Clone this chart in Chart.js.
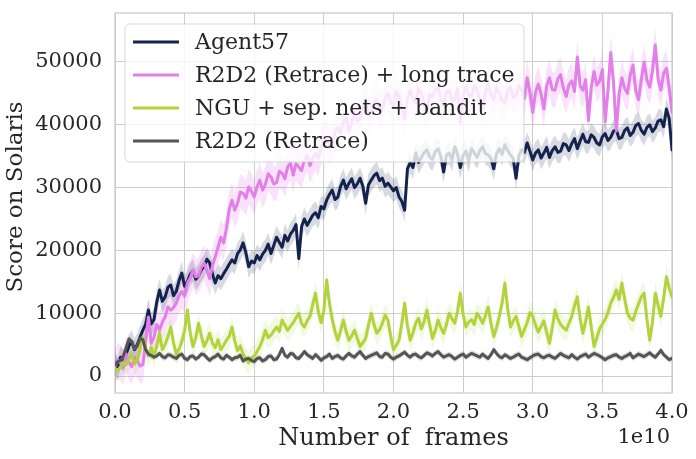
<!DOCTYPE html>
<html><head><meta charset="utf-8">
<script src="https://cdn.jsdelivr.net/npm/chart.js@4.4.1/dist/chart.umd.min.js"></script>
<style>html,body{margin:0;padding:0;background:#fff;}#wrap{width:696px;height:459px;position:relative;}</style>
</head><body><div id="wrap"><canvas id="c" width="696" height="459"></canvas></div>
<script>
// x positions in units of 1e10 frames
const frames = [0,0.02,0.04,0.06,0.08,0.1,0.12,0.14,0.16,0.18,0.2,0.22,0.24,0.26,0.28,0.3,0.32,0.34,0.36,0.38,0.4,0.42,0.44,0.46,0.48,0.5,0.52,0.54,0.56,0.58,0.6,0.62,0.64,0.66,0.68,0.7,0.72,0.74,0.76,0.78,0.8,0.82,0.84,0.86,0.88,0.9,0.92,0.94,0.96,0.98,
1,1.02,1.04,1.06,1.08,1.1,1.12,1.14,1.16,1.18,1.2,1.22,1.24,1.26,1.28,1.3,1.32,1.34,1.36,1.38,1.4,1.42,1.44,1.46,1.48,1.5,1.52,1.54,1.56,1.58,1.6,1.62,1.64,1.66,1.68,1.7,1.72,1.74,1.76,1.78,1.8,1.82,1.84,1.86,1.88,1.9,1.92,1.94,1.96,1.98,
2,2.02,2.04,2.06,2.08,2.1,2.12,2.14,2.16,2.18,2.2,2.22,2.24,2.26,2.28,2.3,2.32,2.34,2.36,2.38,2.4,2.42,2.44,2.46,2.48,2.5,2.52,2.54,2.56,2.58,2.6,2.62,2.64,2.66,2.68,2.7,2.72,2.74,2.76,2.78,2.8,2.82,2.84,2.86,2.88,2.9,2.92,2.94,2.96,2.98,
3,3.02,3.04,3.06,3.08,3.1,3.12,3.14,3.16,3.18,3.2,3.22,3.24,3.26,3.28,3.3,3.32,3.34,3.36,3.38,3.4,3.42,3.44,3.46,3.48,3.5,3.52,3.54,3.56,3.58,3.6,3.62,3.64,3.66,3.68,3.7,3.72,3.74,3.76,3.78,3.8,3.82,3.84,3.86,3.88,3.9,3.92,3.94,3.96,3.98,4];

const seriesNames = ['Agent57','R2D2 (Retrace) + long trace','NGU + sep. nets + bandit','R2D2 (Retrace)'];

const agent57 = [2000,1200,3000,2400,3500,4800,5500,4200,5000,6200,7300,8200,10500,8300,9000,11800,13700,11900,12600,14100,14500,12800,13500,15200,16400,14300,15000,16200,16800,15400,16000,16900,17500,18600,18000,16200,14800,16000,15500,16300,17000,17800,18500,18000,19500,20100,21200,19600,17400,18300,
18000,19200,18500,19400,20000,21000,19500,20800,22100,21300,20500,22400,21500,22600,23200,24100,18700,23800,25000,24000,24800,25600,26000,25200,27000,26600,28000,28900,29600,28100,28500,30200,31200,29800,30700,31400,30000,30600,31500,30200,27500,30400,31200,31900,32300,31100,31500,30200,30700,30100,
29500,30000,28500,27800,26400,33000,34000,33200,35500,34000,34800,35600,36000,34900,34500,35700,36200,35000,32500,35200,35500,34400,36500,35300,33200,35100,35800,34300,36200,35500,34800,35900,36500,35400,35200,34600,33000,35400,36200,35300,36800,35900,35200,34600,31500,35100,36000,35600,37100,35800,
34400,35500,36000,34700,35500,36400,34800,35900,36500,35600,35800,37000,36800,35900,37000,37800,36200,37400,38500,37300,37200,38400,38000,37100,36800,38100,38600,37500,38000,39000,39200,37800,38000,39100,39500,38300,38800,39900,40200,39100,38500,39600,40000,38900,39500,40600,40800,39700,42500,41000,36000];

const r2d2LongTrace = [1500,2600,2000,1400,3500,2200,1500,3000,2500,1600,1800,5500,9400,5200,6200,8200,7300,8600,9400,11000,10500,10900,11600,12800,13500,12700,14800,15600,16900,15800,16000,17300,18000,16800,15500,17600,19000,20500,22100,21200,23500,26500,28000,26400,27500,29300,29100,28300,30100,29400,
28500,30100,31200,29600,30500,32200,31700,30600,30800,32600,32300,31400,33300,33900,32000,33800,33300,32700,34400,35200,33500,34700,35500,34600,36500,37400,38000,36500,37000,38800,39500,38600,40500,41200,39000,40300,42000,40600,41000,42700,43500,41500,42000,43600,44000,42600,42500,44300,45000,43600,
43000,45300,44500,42800,41000,44200,45500,44000,43500,45800,45000,43200,42000,44900,44500,45600,46000,44200,43000,45100,45500,43800,44000,45700,40500,44600,46000,44800,44500,46300,45500,44100,42500,45200,46500,44800,44000,45900,45000,43900,43500,45400,46000,44300,44500,46200,45500,44200,47500,45100,
42000,45200,46500,44900,42500,46200,47500,45600,45500,47300,48000,45800,44500,46400,47000,45300,50800,46200,45500,47200,40700,45900,48500,46300,47000,48800,40500,45400,51500,46800,39000,44900,47500,45800,45000,47900,49500,45400,44000,47200,50000,47100,46000,48600,52700,47300,45500,48200,49000,45900,42000];

const nguBandit = [1200,900,1500,2200,1800,2600,3500,1900,2500,4300,6200,4400,3200,4600,3000,4800,6800,4200,5000,6300,7800,5300,3500,4300,5500,7200,10500,6900,4700,6100,8400,6400,4700,5600,6800,5200,4500,5800,4200,4900,5700,6300,7800,5600,4000,4800,3500,2800,2100,2900,
3200,3900,4700,5800,7300,6100,6500,7200,7800,7100,8900,8100,7300,7900,8500,9300,10000,8400,7800,8800,9500,11400,13200,10200,8500,10400,15300,11600,9000,7100,5700,7200,8900,7100,5700,6400,7300,6000,4700,5300,6000,8100,10000,8200,6800,7400,8400,9700,8900,6300,
4200,4900,5700,8400,11600,8000,5700,6900,8400,9200,7500,8700,10500,8100,6000,7200,8900,7700,6800,8200,10000,9100,8400,10300,13200,9800,7800,8600,9000,8200,10000,9300,8400,9600,11000,8400,6300,7700,9500,11600,14800,10700,7800,8800,9500,7900,6300,7400,8500,10100,
9500,8100,7000,7900,8800,6900,5200,7600,10500,9100,8200,7700,7300,8400,9500,11200,12600,9100,6800,8700,11000,7900,4700,6100,7500,8300,9000,10100,11600,12500,13700,12200,14800,12300,10000,9200,8900,10300,11500,12600,13200,9000,5700,8600,13200,11300,9500,12400,15800,14000,12600];

const r2d2Retrace = [1800,2300,2500,3200,4500,5900,5500,4300,4800,6000,5800,4200,3500,3300,3000,3200,3600,3100,2900,3400,3300,3000,2800,3300,3500,2800,2600,3100,3200,2700,3000,3500,3400,2900,2500,2900,3100,3500,2900,2700,3300,3000,2600,2900,3000,3300,2400,2700,2800,2500,
2300,2800,2900,2400,2600,3100,3200,2600,2700,3400,4400,3300,3000,3600,3500,2900,2800,3300,3900,3400,3100,2800,3400,3000,2500,2900,3100,3500,2800,3100,3300,2900,2700,3200,3600,3200,3000,3500,3900,3300,2800,3100,3300,3500,3700,3100,3000,3600,3500,3000,
2700,3000,3200,3500,3800,3300,3000,3400,3500,3100,2900,3300,3700,3500,3200,3600,3900,3400,3000,3200,3400,3100,2700,3000,3300,3500,3000,3300,3600,3400,3200,3000,3500,3100,2800,3400,4200,3600,3100,2900,3400,3100,2800,3000,3300,3500,3000,2800,2600,2900,
3200,3400,3500,3100,2900,3200,3300,3000,2800,3200,3600,3300,3100,2900,3400,3000,2700,3100,3300,3500,3000,3300,3600,3400,3200,2900,2600,2900,3100,3300,3400,3000,2800,3100,3300,3600,2900,3200,3500,3300,3100,3400,3700,3300,3000,3500,4100,3400,3000,2600,2800];

// estimated half-width of the shaded spread around each curve
const bandHalfWidth = [1800, 2800, 1800, 500];

const xTicks = [0,0.5,1,1.5,2,2.5,3,3.5,4];
const yTicks = [0,10000,20000,30000,40000,50000];
const xTitle = 'Number of  frames';
const yTitle = 'Score on Solaris';
const offsetText = '1e10';

const lineColors = ['#14224e','#e27fe8','#b2d33c','#555555'];
const bandColors = ['rgba(20,34,78,0.17)','rgba(226,127,232,0.22)','rgba(178,211,60,0.16)','rgba(85,85,85,0.2)'];
const allSeries = [agent57, r2d2LongTrace, nguBandit, r2d2Retrace];

const FONT = "'DejaVu Serif', serif";
const TEXT = '#262626';
const GRID = '#cccccc';

function pts(arr, off){ return frames.map((f,i)=>({x:f, y:arr[i]+off})); }

const datasets = [];
allSeries.forEach((arr,k)=>{
  datasets.push({label:'_u'+k, data:pts(arr, bandHalfWidth[k]), fill:'+1', backgroundColor:bandColors[k], borderWidth:0, pointRadius:0, order:20+k});
  datasets.push({label:'_l'+k, data:pts(arr, -bandHalfWidth[k]), fill:false, borderWidth:0, pointRadius:0, order:20+k});
});
allSeries.forEach((arr,k)=>{
  datasets.push({label:seriesNames[k], data:pts(arr,0), fill:false, borderColor:lineColors[k], borderWidth:3,
    borderJoinStyle:'round', borderCapStyle:'round', pointRadius:0, tension:0, order:[3,2,1,0][k]});
});

function noPad(s){ s.paddingTop=0; s.paddingBottom=0; s.paddingLeft=0; s.paddingRight=0; }

const decor = {
  id:'decor',
  beforeDatasetsDraw(chart){
    const {ctx, chartArea:a} = chart;
    ctx.save(); ctx.strokeStyle = GRID; ctx.lineWidth = 1.3;
    ctx.strokeRect(a.left, a.top, a.right-a.left, a.bottom-a.top);
    ctx.restore();
  },
  afterDraw(chart){
    const {ctx, chartArea:a} = chart;
    ctx.save();
    // legend box
    const bx=125, by=24, bw=399, bh=138, r=5;
    ctx.beginPath();
    ctx.moveTo(bx+r,by); ctx.lineTo(bx+bw-r,by); ctx.arcTo(bx+bw,by,bx+bw,by+r,r);
    ctx.lineTo(bx+bw,by+bh-r); ctx.arcTo(bx+bw,by+bh,bx+bw-r,by+bh,r);
    ctx.lineTo(bx+r,by+bh); ctx.arcTo(bx,by+bh,bx,by+bh-r,r);
    ctx.lineTo(bx,by+r); ctx.arcTo(bx,by,bx+r,by,r); ctx.closePath();
    ctx.fillStyle='rgba(255,255,255,0.8)'; ctx.fill();
    ctx.strokeStyle='rgba(204,204,204,0.8)'; ctx.lineWidth=1; ctx.stroke();
    ctx.font = '22px '+FONT; ctx.textBaseline='middle'; ctx.textAlign='left';
    seriesNames.forEach((n,k)=>{
      const y = 42 + k*33;
      ctx.strokeStyle = lineColors[k]; ctx.lineWidth = 3; ctx.lineCap='butt';
      ctx.beginPath(); ctx.moveTo(133,y); ctx.lineTo(179,y); ctx.stroke();
      ctx.fillStyle = TEXT; ctx.fillText(n, 195, y+1);
    });
    ctx.fillStyle=TEXT;
    // offset text
    ctx.font = '21px '+FONT; ctx.textAlign='right';
    ctx.fillText(offsetText, 670, 438);
    // axis titles
    ctx.font = '24px '+FONT; ctx.textAlign='center';
    ctx.fillText(xTitle, (a.left+a.right)/2, 439);
    ctx.translate(16, 197); ctx.rotate(-Math.PI/2);
    ctx.font = '23px '+FONT;
    ctx.fillText(yTitle, 0, 0);
    ctx.restore();
  }
};

new Chart(document.getElementById('c'), {
  type:'line',
  data:{datasets},
  options:{
    responsive:false, animation:false, devicePixelRatio:1,
    layout:{padding:{left:0,right:24,top:13,bottom:0}},
    plugins:{legend:{display:false}, tooltip:{enabled:false}},
    scales:{
      x:{type:'linear', min:0, max:4,
        afterBuildTicks(s){ s.ticks = xTicks.map(v=>({value:v})); },
        afterFit(s){ s.height = 66; noPad(s); },
        ticks:{callback:v=>v.toFixed(1), color:TEXT, font:{family:FONT,size:21}, padding:7, maxRotation:0, autoSkip:false},
        grid:{color:GRID, lineWidth:1, drawTicks:false},
        border:{display:false}
      },
      y:{type:'linear', min:-2700, max:57800,
        afterBuildTicks(s){ s.ticks = yTicks.map(v=>({value:v})); },
        afterFit(s){ s.width = 115; noPad(s); },
        ticks:{callback:v=>String(v), color:TEXT, font:{family:FONT,size:21}, padding:13},
        grid:{color:GRID, lineWidth:1, drawTicks:false},
        border:{display:false}
      }
    }
  },
  plugins:[decor]
});
</script></body></html>
